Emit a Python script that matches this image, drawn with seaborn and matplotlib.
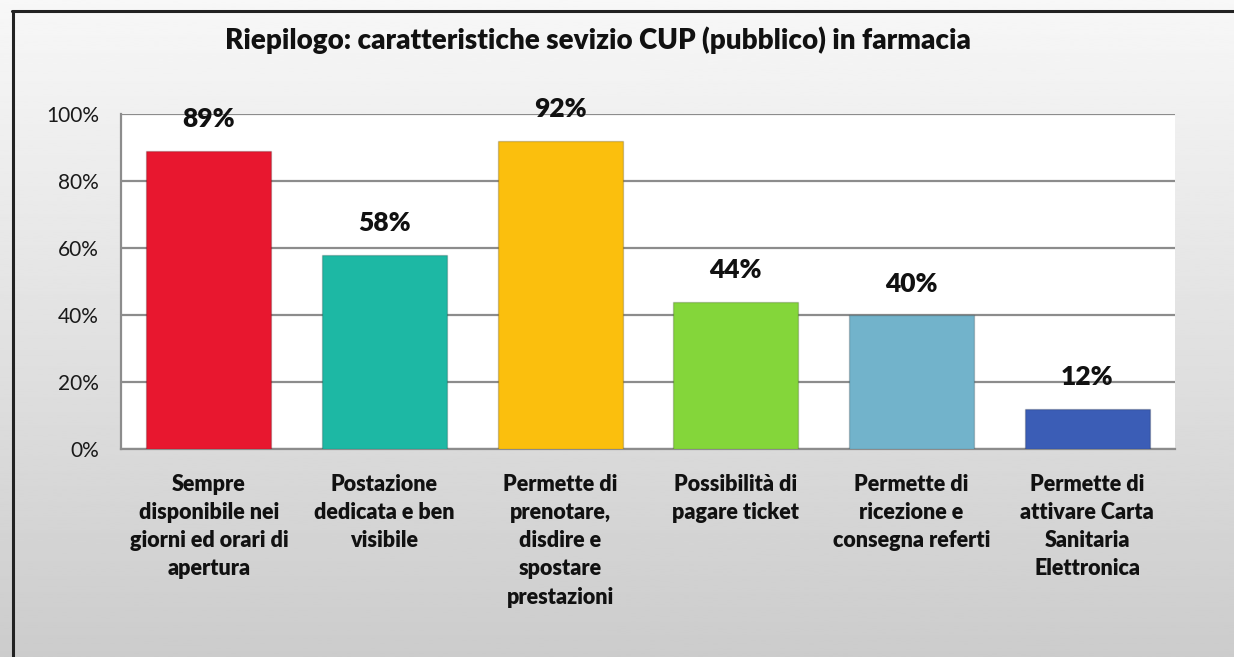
import numpy as np
import pandas as pd
import matplotlib
matplotlib.use("Agg")
import matplotlib.pyplot as plt
import seaborn as sns
from matplotlib.lines import Line2D

sns.set_style("white")
plt.rcParams['font.family'] = ['Lato', 'DejaVu Sans']

# data
categories = [
    "Sempre\ndisponibile nei\ngiorni ed orari di\napertura",
    "Postazione\ndedicata e ben\nvisibile",
    "Permette di\nprenotare,\ndisdire e\nspostare\nprestazioni",
    "Possibilità di\npagare ticket",
    "Permette di\nricezione e\nconsegna referti",
    "Permette di\nattivare Carta\nSanitaria\nElettronica",
]
values = [89, 58, 92, 44, 40, 12]
bar_colors = ['#e8172f', '#1db8a4', '#fbbf0d', '#84d63a', '#72b3cb', '#3b5db6']
yticks = [0, 20, 40, 60, 80, 100]

df = pd.DataFrame({'cat': categories, 'val': values})

W, H = 1234, 657
fig = plt.figure(figsize=(W / 100, H / 100), dpi=100)

# grey gradient background
bg = fig.add_axes([0, 0, 1, 1], zorder=-5)
grad = np.linspace(0.97, 0.80, 256).reshape(-1, 1)
bg.imshow(grad, cmap='gray', vmin=0, vmax=1, aspect='auto', extent=[0, 1, 0, 1])
bg.set_axis_off()

# frame lines (top and left)
fig.add_artist(Line2D([12/W, 1], [1 - 11/H, 1 - 11/H], color='#222222', lw=2.2))
fig.add_artist(Line2D([13/W, 13/W], [0, 1 - 11/H], color='#222222', lw=2.2))

ax = fig.add_axes([121/W, 1 - 449/H, 1054/W, 335/H])
ax.set_facecolor('white')

sns.barplot(data=df, x='cat', y='val', hue='cat', palette=bar_colors,
            legend=False, width=0.71, saturation=1, ax=ax, zorder=3,
            edgecolor='#00000030', linewidth=1)

ax.set_ylim(0, 100)
ax.set_xlim(-0.5, len(categories) - 0.5)
ax.set_yticks(yticks)
ax.set_yticklabels([f"{t}%" for t in yticks], fontsize=15, color='#1a1a1a')
ax.yaxis.grid(True, color='#8c8c8c', lw=1.6, zorder=0)
ax.set_axisbelow(True)

# labels at centres, ticks at category boundaries
ax.set_xticks(range(len(categories)))
ax.set_xticklabels(categories, fontsize=15.5, fontweight='heavy', color='#111111',
                   linespacing=1.42)
ax.tick_params(axis='x', length=0, pad=18)
ax.set_xticks(np.arange(-0.5, len(categories)), minor=True)
ax.tick_params(axis='x', which='minor', length=7, width=1.4, color='#8c8c8c', direction='out')
ax.tick_params(axis='y', length=8, width=1.4, color='#8c8c8c', direction='out', pad=8)
ax.set_xlabel('')
ax.set_ylabel('')

for s in ['top', 'right']:
    ax.spines[s].set_visible(False)
for s in ['left', 'bottom']:
    ax.spines[s].set_color('#8c8c8c')
    ax.spines[s].set_linewidth(1.6)

for i, v in enumerate(values):
    ax.annotate(f"{v}%", (i, v), textcoords="offset points", xytext=(0, 14),
                ha='center', va='bottom', fontsize=19, fontweight='heavy',
                color='#111111', annotation_clip=False)

fig.text(225/W, 1 - 40/H, "Riepilogo: caratteristiche sevizio CUP (pubblico) in farmacia",
         ha='left', va='center', fontsize=20, fontweight='heavy', color='#111111')

fig.savefig('out.png', dpi=100)
